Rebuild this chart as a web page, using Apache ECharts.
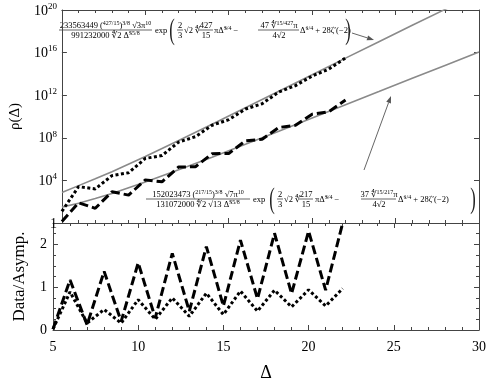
<!DOCTYPE html>
<html>
<head>
<meta charset="utf-8">
<script src="https://cdn.jsdelivr.net/npm/echarts@6/dist/echarts.min.js"></script>
<style>
  html, body { margin: 0; padding: 0; background: #fff; }
  #chart { width: 494px; height: 383px; }
</style>
</head>
<body>
<div id="chart"></div>
<script>
// integer Δ where the data was sampled
const deltas = [5, 6, 7, 8, 9, 10, 11, 12, 13, 14, 15, 16, 17, 18, 19, 20, 21, 22]
// log10 of rho
const upperDataLog = [1.1, 3.41, 3.2, 4.45, 4.72, 6.06, 6.34, 7.6, 8.1, 9.18, 9.7, 10.7, 11.2, 12.3, 12.9, 13.8, 14.45, 15.5]
const lowerDataLog = [0.15, 1.9, 1.38, 2.93, 2.62, 4.05, 3.87, 5.26, 5.28, 6.5, 6.53, 7.71, 7.86, 8.97, 9.17, 10.22, 10.45, 11.55]
// gray asymptotic curves (log10)
const asymDeltas = [5, 6, 7, 8, 10, 12, 14, 16, 18, 20, 22, 24, 26, 28, 30]
const upperAsymLog = [2.87, 3.51, 4.15, 4.82, 6.25, 7.75, 9.28, 10.82, 12.37, 13.92, 15.48, 17.02, 18.56, 20.08, 21.6]
const lowerAsymLog = [1.49, 1.86, 2.3, 2.78, 3.85, 4.99, 6.18, 7.39, 8.62, 9.86, 11.1, 12.34, 13.59, 14.82, 16.05]
// bottom panel: Data / Asymp.
const dashedRatio = [0.02, 1.17, 0.12, 1.37, 0.2, 1.57, 0.28, 1.79, 0.44, 1.95, 0.56, 2.1, 0.73, 2.26, 0.85, 2.31, 0.93, 2.5]
const dottedRatio = [0.02, 0.89, 0.16, 0.48, 0.16, 0.71, 0.25, 0.75, 0.32, 0.86, 0.36, 0.91, 0.44, 0.93, 0.54, 0.94, 0.56, 0.97]
// tick labels
const topExponents = [0, 4, 8, 12, 16, 20]
const xTicks = [5, 10, 15, 20, 25, 30]

const FF = '"Liberation Serif", "DejaVu Serif", serif'
const AXIS = '#444'
const GRAY = '#8a8a8a'

function pairs(xs, ys) {
  return xs.map((x, i) => [x, ys[i]])
}

function xAx(grid, pos, labels) {
  return {
    type: 'value', gridIndex: grid, position: pos, min: 5, max: 30, interval: 5,
    axisLine: { onZero: false, lineStyle: { color: AXIS, width: 1 } },
    axisTick: { inside: true, length: 5, lineStyle: { color: AXIS } },
    minorTick: { show: true, splitNumber: 5, length: 3, lineStyle: { color: AXIS } },
    splitLine: { show: false },
    axisLabel: labels ? {
      show: true, margin: 10, color: '#000', fontSize: 14, fontFamily: FF,
      formatter: v => xTicks.includes(v) ? String(v) : ''
    } : { show: false },
    name: labels ? 'Δ' : '', nameLocation: 'middle', nameGap: 34,
    nameTextStyle: { color: '#000', fontSize: 18, fontFamily: FF }
  }
}

function yAx(grid, pos, opts) {
  return Object.assign({
    type: 'value', gridIndex: grid, position: pos,
    axisLine: { onZero: false, lineStyle: { color: AXIS, width: 1 } },
    axisTick: { inside: true, length: 5, lineStyle: { color: AXIS } },
    splitLine: { show: false },
    axisLabel: { show: false }
  }, opts)
}

const topLabel = {
  show: true, margin: 5, color: '#000', fontFamily: FF,
  formatter: v => {
    if (!topExponents.includes(v)) return ''
    return v === 0 ? '{b|1}' : '{b|10}{s|' + v + '}'
  },
  rich: {
    b: { fontSize: 14, fontFamily: FF, lineHeight: 16, verticalAlign: 'bottom', color: '#000' },
    s: { fontSize: 9, fontFamily: FF, lineHeight: 8, verticalAlign: 'top', color: '#000' }
  }
}

// formula text helpers
const rich = {
  n: { fontSize: 8.5, fontFamily: FF, lineHeight: 10, verticalAlign: 'bottom', fill: '#000' },
  p: { fontSize: 6, fontFamily: FF, lineHeight: 8, verticalAlign: 'top', fill: '#000' }
}
function txt(x, y, text, align) {
  return {
    type: 'text', x: x, y: y, silent: true,
    style: { text: text, rich: rich, fill: '#000', fontSize: 8.5, fontFamily: FF, align: align || 'left', verticalAlign: 'middle' }
  }
}
function bigParen(x, y, ch) {
  return {
    type: 'text', x: x, y: y, scaleX: 0.55, silent: true,
    style: { text: ch, fill: '#222', fontSize: 30, fontFamily: FF, align: 'center', verticalAlign: 'middle' }
  }
}
function frac(xc, x1, x2, yb, top, bot) {
  return [
    txt(xc, yb - 5, top, 'center'),
    { type: 'line', silent: true, shape: { x1: x1, y1: yb, x2: x2, y2: yb }, style: { stroke: '#000', lineWidth: 0.6 } },
    txt(xc, yb + 5.5, bot, 'center')
  ]
}
function arrow(x1, y1, x2, y2) {
  const a = Math.atan2(y2 - y1, x2 - x1)
  const L = 7, W = 2.5
  const bx = x2 - L * Math.cos(a), by = y2 - L * Math.sin(a)
  return [
    { type: 'line', silent: true, shape: { x1: x1, y1: y1, x2: bx, y2: by }, style: { stroke: '#666', lineWidth: 1 } },
    { type: 'polygon', silent: true, shape: { points: [[x2, y2], [bx + W * Math.sin(a), by - W * Math.cos(a)], [bx - W * Math.sin(a), by + W * Math.cos(a)]] }, style: { fill: '#555' } }
  ]
}

function formula(yb, p) {
  return [].concat(
    frac(p.mc, p.m1, p.m2, yb, p.num, p.den),
    [txt(p.exp, yb + 0.5, '{n|exp}')],
    [bigParen(p.lp, yb + 1, '(')],
    frac(p.tc, p.tc - 3, p.tc + 3, yb, '{n|2}', '{n|3}'),
    [txt(p.sq, yb + 0.5, '{n|√2 ∜}')],
    frac(p.rc, p.rc - 7, p.rc + 7, yb, '{n|' + p.r1 + '}', '{n|15}'),
    [txt(p.pi, yb + 0.5, '{n|πΔ̃}{p|3/4}{n| −}')],
    frac(p.kc, p.k1, p.k2, yb, '{n|' + p.k + ' ∜}{p|15/' + p.r1 + '}{n|π}', '{n|4√2}'),
    [txt(p.tail, yb + 0.5, '{n|Δ̃}{p|1/4}{n| + 28ζ′(−2)}')],
    [bigParen(p.rp, yb + 1, ')')]
  )
}

const graphics = [].concat(
  formula(30, {
    mc: 105.5, m1: 59, m2: 152,
    num: '{n|233563449 (}{p|427/15}{n|)}{p|3/8}{n| √3π}{p|10}',
    den: '{n|991232000 ∜2 Δ̃}{p|55/8}',
    exp: 155, lp: 172, tc: 180, sq: 184, rc: 206, r1: '427', pi: 214,
    kc: 279, k1: 258, k2: 299, k: '47', tail: 300, rp: 348
  }),
  formula(199, {
    mc: 198, m1: 146, m2: 250,
    num: '{n|152023473 (}{p|217/15}{n|)}{p|3/8}{n| √7π}{p|10}',
    den: '{n|131072000 ∜2 √13 Δ̃}{p|55/8}',
    exp: 253, lp: 272, tc: 280, sq: 284, rc: 306, r1: '217', pi: 315,
    kc: 379, k1: 361, k2: 396, k: '37', tail: 398, rp: 473
  }),
  arrow(352, 33, 374, 40),
  arrow(364, 170, 391, 96)
)

const chart = echarts.init(document.getElementById('chart'))

chart.setOption({
  animation: false,
  backgroundColor: '#fff',
  grid: [
    { left: 53, right: 15, top: 10, height: 213 },
    { left: 53, right: 15, top: 223, height: 107 }
  ],
  xAxis: [
    xAx(0, 'bottom', false),
    xAx(0, 'top', false),
    xAx(1, 'bottom', true),
    xAx(1, 'top', false)
  ],
  yAxis: [
    yAx(0, 'left', {
      min: 0, max: 20, interval: 4, axisLabel: topLabel,
      name: 'ρ(Δ)', nameLocation: 'middle', nameGap: 30, nameRotate: 90,
      nameTextStyle: { color: '#000', fontSize: 15, fontFamily: FF }
    }),
    yAx(0, 'right', { min: 0, max: 20, interval: 4 }),
    yAx(1, 'left', {
      min: 0, max: 2.5, interval: 1,
      axisLabel: { show: true, margin: 6, color: '#000', fontSize: 14, fontFamily: FF, showMaxLabel: false },
      name: 'Data/Asymp.', nameLocation: 'middle', nameGap: 25, nameRotate: 90,
      nameTextStyle: { color: '#000', fontSize: 17, fontFamily: FF }
    }),
    yAx(1, 'left', { min: 0, max: 2.5, interval: 0.25, axisLine: { show: false }, axisTick: { inside: true, length: 3, lineStyle: { color: AXIS } } }),
    yAx(1, 'right', { min: 0, max: 2.5, interval: 1 }),
    yAx(1, 'right', { min: 0, max: 2.5, interval: 0.25, axisLine: { show: false }, axisTick: { inside: true, length: 3, lineStyle: { color: AXIS } } })
  ],
  series: [
    {
      type: 'line', xAxisIndex: 0, yAxisIndex: 0, data: pairs(asymDeltas, upperAsymLog),
      showSymbol: false, silent: true, clip: true, lineStyle: { color: GRAY, width: 1.6 }
    },
    {
      type: 'line', xAxisIndex: 0, yAxisIndex: 0, data: pairs(asymDeltas, lowerAsymLog),
      showSymbol: false, silent: true, clip: true, lineStyle: { color: GRAY, width: 1.6 }
    },
    {
      type: 'line', xAxisIndex: 0, yAxisIndex: 0, data: pairs(deltas, upperDataLog),
      showSymbol: false, silent: true, clip: true, lineStyle: { color: '#000', width: 3, type: [3, 2.5] }
    },
    {
      type: 'line', xAxisIndex: 0, yAxisIndex: 0, data: pairs(deltas, lowerDataLog),
      showSymbol: false, silent: true, clip: true, lineStyle: { color: '#000', width: 3, type: [9, 4] }
    },
    {
      type: 'line', xAxisIndex: 2, yAxisIndex: 2, data: pairs(deltas, dashedRatio),
      showSymbol: false, silent: true, clip: true, lineStyle: { color: '#000', width: 3, type: [9, 4] }
    },
    {
      type: 'line', xAxisIndex: 2, yAxisIndex: 2, data: pairs(deltas, dottedRatio),
      showSymbol: false, silent: true, clip: true, lineStyle: { color: '#000', width: 3, type: [3, 2.5] }
    }
  ],
  graphic: graphics
})
</script>
</body>
</html>
